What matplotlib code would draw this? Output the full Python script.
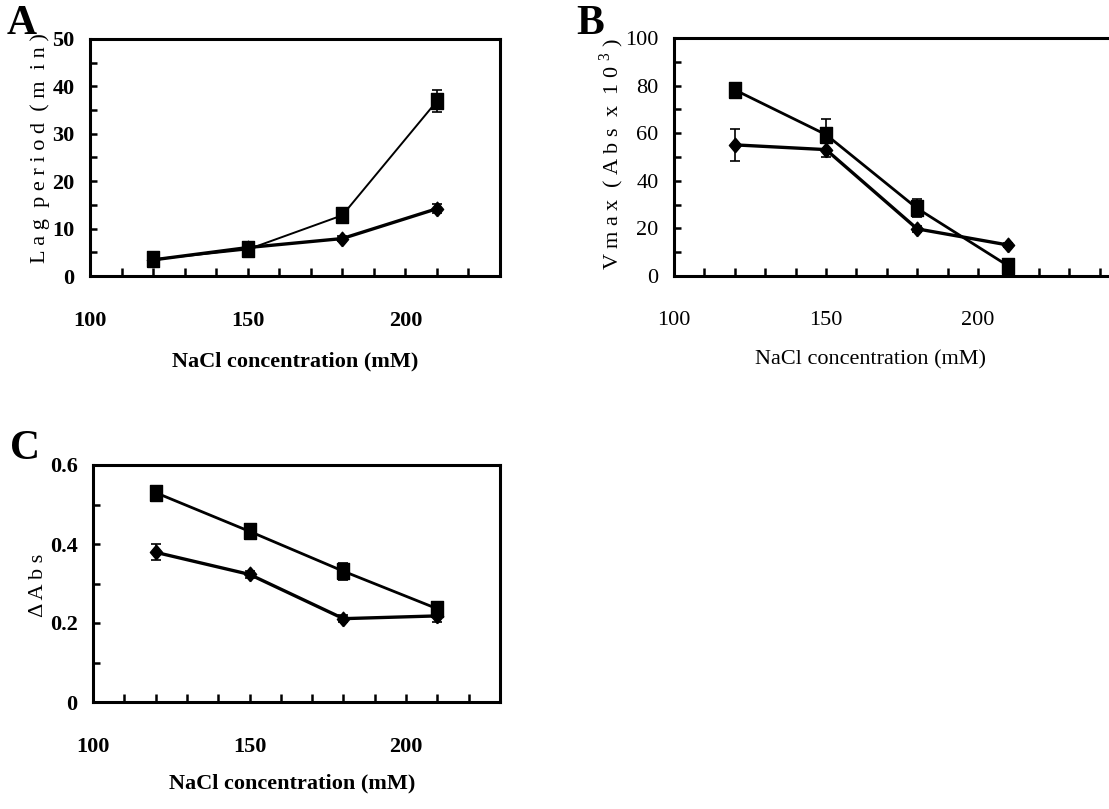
import matplotlib
matplotlib.use('Agg')
import matplotlib.pyplot as plt

# NaCl concentrations (mM)
nacl = [120, 150, 180, 210]

# A: lag period (min)
lag_sq = [3.5, 5.6, 12.8, 36.9]
lag_sq_err = [0.5, 0.6, 0.8, 2.4]
lag_di = [3.4, 6.0, 7.9, 14.2]
lag_di_err = [0.4, 0.5, 0.6, 1.0]

# B: Vmax (Abs x 10^3)
vmax_sq = [78.2, 59.4, 28.4, 4.2]
vmax_sq_err = [1.5, 6.5, 3.8, 1.0]
vmax_di = [55.1, 53.1, 19.8, 13.0]
vmax_di_err = [6.8, 3.0, 1.2, 1.0]

# C: delta Abs
dabs_sq = [0.530, 0.432, 0.331, 0.236]
dabs_sq_err = [0.008, 0.008, 0.022, 0.010]
dabs_di = [0.379, 0.323, 0.211, 0.218]
dabs_di_err = [0.020, 0.008, 0.008, 0.016]

SERIF = ['Liberation Serif', 'DejaVu Serif']
plt.rcParams['font.family'] = SERIF
plt.rcParams['mathtext.fontset'] = 'custom'
plt.rcParams['mathtext.rm'] = 'Liberation Serif'

# tall markers, like the stretched original
SQ = [(-0.36, -0.5), (0.36, -0.5), (0.36, 0.5), (-0.36, 0.5), (-0.36, -0.5)]
DI = [(0, -0.5), (0.42, 0), (0, 0.5), (-0.42, 0), (0, -0.5)]

W, H = 1109, 809
fig = plt.figure(figsize=(W / 100, H / 100), dpi=100)


def px_axes(left, top, right, bottom):
    return fig.add_axes([left / W, 1 - bottom / H, (right - left) / W, (bottom - top) / H])


def style_axes(ax, xlim, ylim, ymaj, ymin, bold, fs=16):
    ax.set_xlim(*xlim)
    ax.set_ylim(*ylim)
    ax.tick_params(axis='x', direction='in', length=6, width=1.8, pad=25, labelsize=fs)
    ax.tick_params(axis='y', direction='in', length=5, width=1.8, pad=11, labelsize=fs)
    ax.tick_params(top=False, right=False)
    for s in ax.spines.values():
        s.set_linewidth(2.2)
    w = 'bold' if bold else 'normal'
    xt = list(range(100, int(xlim[1]) + 1, 10))
    ax.set_xticks(xt)
    ax.set_xticklabels([str(t) if t % 50 == 0 else '' for t in xt], fontweight=w)
    yt = [round(i * ymin, 3) for i in range(int(round(ylim[1] / ymin)) + 1)]
    ax.set_yticks(yt)
    ylabs = []
    for v in yt:
        if abs(v / ymaj - round(v / ymaj)) < 1e-6:
            ylabs.append('0' if v == 0 else ('%g' % v))
        else:
            ylabs.append('')
    ax.set_yticklabels(ylabs, fontweight=w)


def plot_series(ax, y_sq, e_sq, y_di, e_di, lw_sq=2.0, lw_di=2.4):
    ax.errorbar(nacl, y_sq, yerr=e_sq, color='black', lw=lw_sq, marker=SQ, ms=11.5,
                capsize=3.5, elinewidth=1.2, capthick=1.2)
    ax.errorbar(nacl, y_di, yerr=e_di, color='black', lw=lw_di, marker=DI, ms=10.5,
                capsize=3.5, elinewidth=1.2, capthick=1.2)


# Panel A
axA = px_axes(90, 39, 500, 276)
plot_series(axA, lag_sq, lag_sq_err, lag_di, lag_di_err, lw_sq=1.4)
style_axes(axA, (100, 230), (0, 50), 10, 5, bold=True)
axA.set_xlabel('NaCl concentration (mM)', fontsize=16, fontweight='bold')
axA.xaxis.set_label_coords(0.5, -0.36)
axA.xaxis.label.set_va('center')
axA.set_ylabel('L a g  p e r i o d  ( m  i n )', fontsize=16)
axA.yaxis.set_label_coords(-0.122, 0.54)
axA.yaxis.label.set_va('center')

# Panel B (right edge runs past the picture)
axB = px_axes(674, 38, 1116, 276)
plot_series(axB, vmax_sq, vmax_sq_err, vmax_di, vmax_di_err)
style_axes(axB, (100, 245.4), (0, 100), 20, 10, bold=False)
axB.set_xlabel('NaCl concentration (mM)', fontsize=16)
axB.xaxis.set_label_coords(0.444, -0.353)
axB.xaxis.label.set_va('center')
axB.set_ylabel(r'V m a x  ( A b s  x  1 0 $^{3}$ )', fontsize=16)
axB.yaxis.set_label_coords(-0.14, 0.513)
axB.yaxis.label.set_va('center')

# Panel C
axC = px_axes(93, 465, 500, 702)
plot_series(axC, dabs_sq, dabs_sq_err, dabs_di, dabs_di_err)
style_axes(axC, (100, 230), (0, 0.6), 0.2, 0.1, bold=True)
axC.set_xlabel('NaCl concentration (mM)', fontsize=16, fontweight='bold')
axC.xaxis.set_label_coords(0.49, -0.342)
axC.xaxis.label.set_va('center')
axC.set_ylabel('Δ A b s', fontsize=16)
axC.yaxis.set_label_coords(-0.135, 0.49)
axC.yaxis.label.set_va('center')

# panel letters
fig.text(22 / W, 1 - 24 / H, 'A', fontsize=30, fontweight='bold', ha='center', va='center')
fig.text(590 / W, 1 - 24 / H, 'B', fontsize=30, fontweight='bold', ha='center', va='center')
fig.text(25 / W, 1 - 449 / H, 'C', fontsize=30, fontweight='bold', ha='center', va='center')

fig.savefig('out.png', dpi=100)
